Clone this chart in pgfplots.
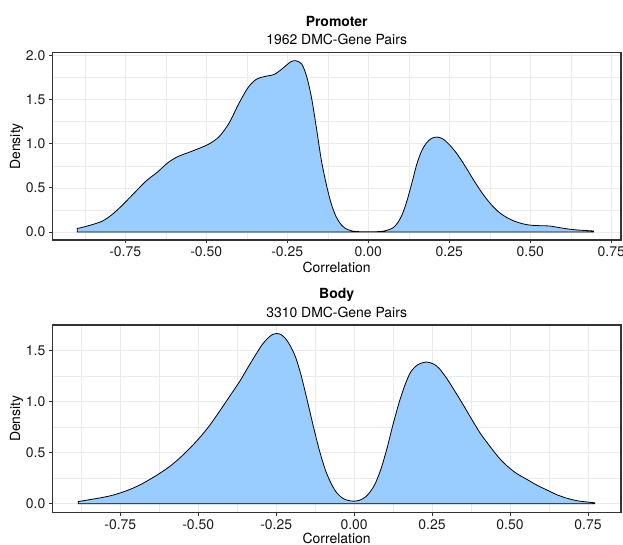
\documentclass[border=0pt]{standalone}
\usepackage{fontspec}
\setmainfont{TeX Gyre Heros}
\usepackage{pgfplots}
\pgfplotsset{compat=1.18}
\definecolor{fillblue}{RGB}{153,204,255}
\definecolor{gridc}{RGB}{235,235,235}
\definecolor{grey20}{RGB}{51,51,51}
\definecolor{ticktext}{RGB}{26,26,26}
\newcommand\fs{\fontsize{14}{16.8}\selectfont}
\pgfplotsset{
  dens/.style={
    scale only axis, width=568.7bp, height=187.3bp,
    axis line style={grey20, line width=1.1bp},
    tick align=outside, major tick length=3.5bp, minor tick length=0pt,
    every tick/.style={grey20, line width=0.8bp},
    xtick pos=bottom, ytick pos=left,
    grid=both,
    major grid style={gridc, line width=0.7bp},
    minor grid style={gridc, line width=0.4bp},
    xtick={-0.75,-0.5,-0.25,0,0.25,0.5,0.75},
    xticklabels={-0.75,-0.50,-0.25,0.00,0.25,0.50,0.75},
    minor xtick={-0.875,-0.625,-0.375,-0.125,0.125,0.375,0.625},
    tick label style={font=\fs, text=ticktext},
  }
}
\begin{document}
\begin{tikzpicture}
\begin{axis}[dens, name=top, at={(52.3bp,305bp)}, anchor=south west,
  xmin=-0.975, xmax=0.78, ymin=-0.09, ymax=2.03,
  ytick={0,0.5,1,1.5,2}, yticklabels={0.0,0.5,1.0,1.5,2.0},
  minor ytick={0.25,0.75,1.25,1.75}]
\addplot[smooth, fill=fillblue, draw=black, line width=0.8bp] coordinates {
(-0.898,0.040) (-0.86,0.075) (-0.82,0.125) (-0.79,0.20) (-0.76,0.30)
(-0.72,0.45) (-0.685,0.58) (-0.65,0.68) (-0.62,0.78) (-0.59,0.85)
(-0.555,0.90) (-0.52,0.95) (-0.49,1.00) (-0.46,1.08) (-0.43,1.23)
(-0.40,1.45) (-0.37,1.64) (-0.345,1.73) (-0.32,1.76) (-0.29,1.785)
(-0.265,1.85) (-0.24,1.925) (-0.224,1.94) (-0.205,1.90) (-0.19,1.76)
(-0.175,1.52) (-0.16,1.18) (-0.145,0.82) (-0.13,0.55) (-0.115,0.33)
(-0.10,0.18) (-0.085,0.09) (-0.07,0.04) (-0.05,0.012) (-0.02,0.003)
(0.02,0.003) (0.05,0.012) (0.075,0.045) (0.09,0.10) (0.105,0.20)
(0.12,0.36) (0.135,0.56) (0.15,0.77) (0.165,0.92) (0.18,1.01)
(0.195,1.06) (0.212,1.075) (0.23,1.055) (0.25,0.99) (0.275,0.88)
(0.30,0.74) (0.325,0.59) (0.35,0.45) (0.375,0.33) (0.40,0.235)
(0.425,0.17) (0.45,0.125) (0.475,0.095) (0.50,0.078) (0.53,0.072)
(0.56,0.068) (0.59,0.05) (0.62,0.033) (0.65,0.022) (0.695,0.012)
} \closedcycle;
\end{axis}
\begin{axis}[dens, name=bot, at={(52.3bp,32.7bp)}, anchor=south west,
  xmin=-0.968, xmax=0.856, ymin=-0.083, ymax=1.753,
  ytick={0,0.5,1,1.5}, yticklabels={0.0,0.5,1.0,1.5},
  minor ytick={0.25,0.75,1.25}]
\addplot[smooth, fill=fillblue, draw=black, line width=0.8bp] coordinates {
(-0.885,0.022) (-0.85,0.04) (-0.815,0.058) (-0.78,0.08) (-0.75,0.107)
(-0.72,0.14) (-0.687,0.185) (-0.655,0.24) (-0.623,0.30) (-0.59,0.37)
(-0.559,0.45) (-0.527,0.545) (-0.495,0.65) (-0.463,0.77) (-0.431,0.91)
(-0.40,1.05) (-0.367,1.20) (-0.34,1.34) (-0.316,1.46) (-0.295,1.56)
(-0.278,1.62) (-0.262,1.66) (-0.249,1.67) (-0.235,1.66) (-0.22,1.62)
(-0.205,1.55) (-0.188,1.44) (-0.17,1.26) (-0.15,1.01) (-0.13,0.75)
(-0.111,0.52) (-0.092,0.33) (-0.073,0.195) (-0.055,0.105) (-0.035,0.052)
(-0.017,0.032) (0.0,0.026) (0.018,0.036) (0.036,0.066) (0.052,0.12)
(0.068,0.20) (0.087,0.35) (0.106,0.55) (0.125,0.78) (0.145,1.00)
(0.165,1.18) (0.183,1.30) (0.205,1.365) (0.232,1.39) (0.255,1.37)
(0.272,1.33) (0.297,1.23) (0.324,1.10) (0.35,0.97) (0.375,0.84)
(0.405,0.69) (0.439,0.55) (0.465,0.45) (0.49,0.373) (0.52,0.30)
(0.554,0.24) (0.585,0.185) (0.618,0.136) (0.65,0.09) (0.682,0.055)
(0.72,0.028) (0.772,0.01)
} \closedcycle;
\end{axis}
\foreach \n/\t/\s/\d in {top/Promoter/1962/32.3, bot/Body/3310/30.8} {
  \node[anchor=base, font=\fs\bfseries] at ([yshift=26.2bp]\n.north) {\t};
  \node[anchor=base, font=\fs] at ([yshift=7.8bp]\n.north) {\s{} DMC-Gene Pairs};
  \node[anchor=base, font=\fs] at ([yshift=-\d bp]\n.south) {Correlation};
  \node[anchor=base, font=\fs, rotate=90] at ([xshift=-32.3bp]\n.west) {Density};
}
\pgfresetboundingbox
\useasboundingbox (0,0) rectangle (623bp,545bp);
\end{tikzpicture}
\end{document}
